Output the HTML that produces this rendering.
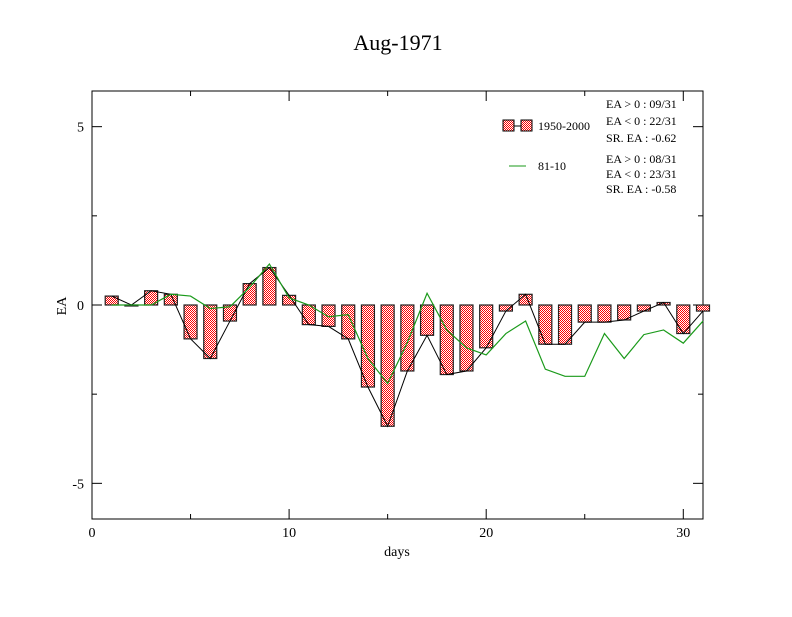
<!DOCTYPE html>
<html><head><meta charset="utf-8"><style>
body{margin:0;background:#fff;}
svg text{font-family:"Liberation Serif",serif;}
</style></head><body>
<svg id="chart" width="792" height="612" viewBox="0 0 792 612" xmlns="http://www.w3.org/2000/svg">
<defs>
<pattern id="chk" width="2" height="2" patternUnits="userSpaceOnUse">
<rect width="2" height="2" fill="#ffffff"/><rect width="1" height="1" fill="#ff0000"/><rect x="1" y="1" width="1" height="1" fill="#ff0000"/>
</pattern>
</defs>
<rect width="792" height="612" fill="#fff"/>
<text x="398" y="50" font-size="22" text-anchor="middle">Aug-1971</text>
<g id="plot"></g>
<text x="397" y="556" font-size="14" text-anchor="middle">days</text>
<text x="66" y="306" font-size="14" text-anchor="middle" transform="rotate(-90 66 306)">EA</text>
<g>
<rect x="503" y="120" width="11" height="11" fill="url(#chk)" stroke="#000"/>
<rect x="521" y="120" width="11" height="11" fill="url(#chk)" stroke="#000"/>
<line x1="514" y1="126" x2="521" y2="126" stroke="#000"/>
<text x="538" y="130" font-size="12">1950-2000</text>
<line x1="509" y1="166" x2="526" y2="166" stroke="#1a9a1a"/>
<text x="538" y="170" font-size="12">81-10</text>
<text x="606" y="108" font-size="12">EA &gt; 0 : 09/31</text>
<text x="606" y="125" font-size="12">EA &lt; 0 : 22/31</text>
<text x="606" y="142" font-size="12">SR. EA : -0.62</text>
<text x="606" y="163" font-size="12">EA &gt; 0 : 08/31</text>
<text x="606" y="178" font-size="12">EA &lt; 0 : 23/31</text>
<text x="606" y="193" font-size="12">SR. EA : -0.58</text>
</g>
</svg>
<script>
const days=[1,2,3,4,5,6,7,8,9,10,11,12,13,14,15,16,17,18,19,20,21,22,23,24,25,26,27,28,29,30,31];
const ea1950=[0.25,0,0.4,0.3,-0.95,-1.5,-0.45,0.6,1.05,0.27,-0.55,-0.6,-0.95,-2.3,-3.4,-1.85,-0.85,-1.95,-1.85,-1.2,-0.17,0.3,-1.1,-1.1,-0.48,-0.48,-0.42,-0.17,0.07,-0.8,-0.17];
const ea8110=[0,0,0,0.3,0.25,-0.1,-0.05,0.5,1.15,0.2,0,-0.33,-0.27,-1.5,-2.2,-1.05,0.33,-0.7,-1.2,-1.4,-0.8,-0.45,-1.8,-2.0,-2.0,-0.8,-1.5,-0.83,-0.7,-1.07,-0.45];
const xTicks=[0,10,20,30];
const yTicks=[-5,0,5];
const L=92,R=703,T=91,B=519,xmin=0,xmax=31,ymin=-6,ymax=6;
const X=v=>L+(v-xmin)/(xmax-xmin)*(R-L);
const Y=v=>B-(v-ymin)/(ymax-ymin)*(B-T);
const NS='http://www.w3.org/2000/svg';
const g=document.getElementById('plot');
function mk(t,a){const e=document.createElementNS(NS,t);for(const k in a)e.setAttribute(k,a[k]);g.appendChild(e);return e;}
const frame=mk('rect',{x:L,y:T,width:R-L,height:B-T,fill:'none',stroke:'#000'});


// minor x ticks
for(let v=5;v<31;v+=10){mk('line',{x1:X(v),y1:B,x2:X(v),y2:B-5,stroke:'#000'});mk('line',{x1:X(v),y1:T,x2:X(v),y2:T+5,stroke:'#000'});}
xTicks.forEach(v=>{
 mk('line',{x1:X(v),y1:B,x2:X(v),y2:B-10,stroke:'#000'});mk('line',{x1:X(v),y1:T,x2:X(v),y2:T+10,stroke:'#000'});
 const t=mk('text',{x:X(v),y:B+18,'font-size':14,'text-anchor':'middle'});t.textContent=v;
 
 
});
for(let v=-2.5;v<=2.5;v+=5){mk('line',{x1:L,y1:Y(v),x2:L+5,y2:Y(v),stroke:'#000'});mk('line',{x1:R,y1:Y(v),x2:R-5,y2:Y(v),stroke:'#000'});}
yTicks.forEach(v=>{
 mk('line',{x1:L,y1:Y(v),x2:L+10,y2:Y(v),stroke:'#000'});mk('line',{x1:R,y1:Y(v),x2:R-10,y2:Y(v),stroke:'#000'});
 const t=mk('text',{x:L-8,y:Y(v)+5,'font-size':14,'text-anchor':'end'});t.textContent=v;
 
 
});
const bw=13;
days.forEach((d,i)=>{
 const v=ea1950[i];const y0=Y(0),y1=Y(v);
 const r=mk('rect',{x:X(d)-bw/2,y:Math.min(y0,y1),width:bw,height:Math.max(Math.abs(y1-y0),1),fill:'url(#chk)',stroke:'#222','stroke-width':1.2});
 
 
});
const l1=mk('polyline',{points:days.map((d,i)=>X(d)+','+Y(ea1950[i])).join(' '),fill:'none',stroke:'#000','stroke-width':1});


const l2=mk('polyline',{points:days.map((d,i)=>X(d)+','+Y(ea8110[i])).join(' '),fill:'none',stroke:'#1a9a1a','stroke-width':1.2});


</script>
</body></html>
